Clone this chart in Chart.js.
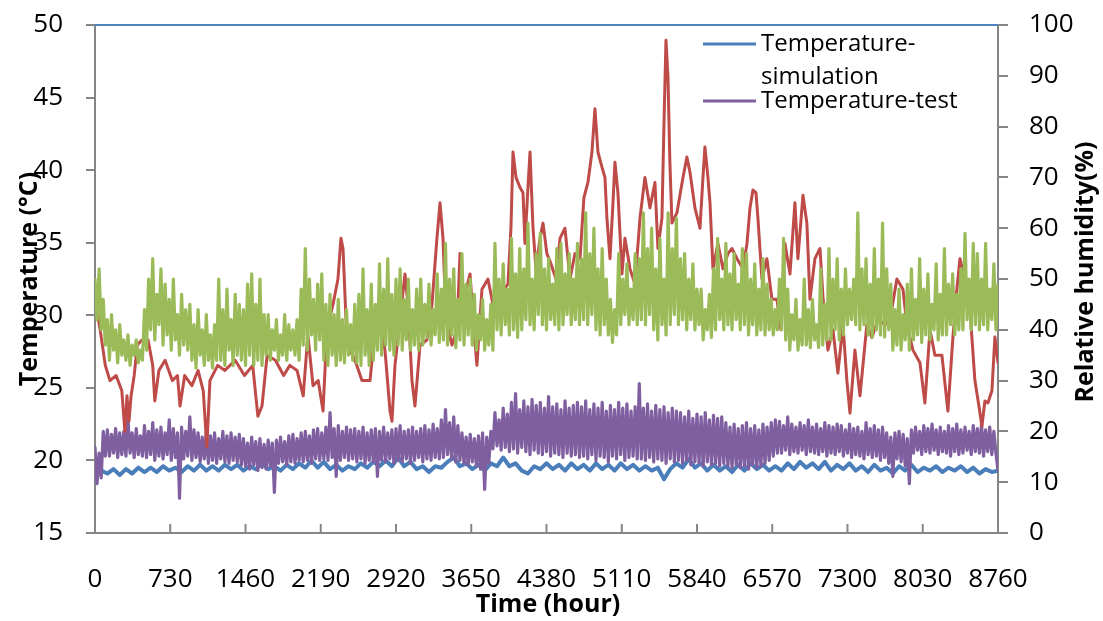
<!DOCTYPE html>
<html>
<head>
<meta charset="utf-8">
<script src="https://cdn.jsdelivr.net/npm/chart.js@4.4.1/dist/chart.umd.min.js"></script>
<style>
  html, body { margin: 0; padding: 0; background: #fff; }
  canvas { display: block; }
</style>
</head>
<body>
<canvas id="line-chart" width="1103" height="621"></canvas>
<script>
const FONT = "'Open Sans', 'DejaVu Sans', sans-serif";

// axis ticks
const hourTicks = [0, 730, 1460, 2190, 2920, 3650, 4380, 5110, 5840, 6570, 7300, 8030, 8760];
const tempTicks = [15, 20, 25, 30, 35, 40, 45, 50];
const rhTicks = [0, 10, 20, 30, 40, 50, 60, 70, 80, 90, 100];

// sampling step (hours) of the read-off series
const SIM_STEP = 60;
const TEST_STEP = 40; // highs at 0,40,80..., lows half a step later

// Temperature-simulation (degC), one value every SIM_STEP hours
const tempSim = [
  19.8,19.3,19.1,19.4,19.0,19.4,19.1,19.5,19.2,19.5,19.2,19.6,19.3,19.5,19.2,19.6,19.3,19.7,19.3,19.6,
  19.3,19.7,19.4,19.7,19.3,19.6,19.4,19.8,19.4,19.6,19.3,19.7,19.4,19.8,19.5,20.0,19.5,19.9,19.4,19.7,
  19.3,19.6,19.4,19.8,19.5,19.9,19.6,20.0,19.6,20.2,19.6,19.9,19.4,19.6,19.2,19.6,19.5,19.9,20.2,19.6,
  19.8,19.4,19.7,19.3,19.8,19.6,20.2,19.6,19.8,19.3,19.1,19.6,19.4,19.8,19.4,19.7,19.3,19.8,19.4,19.7,
  19.3,19.8,19.4,19.7,19.3,19.8,19.4,19.7,19.3,19.6,19.3,19.5,18.7,19.4,19.8,19.5,20.1,19.5,19.8,19.3,
  19.7,19.3,19.6,19.2,19.7,19.3,19.8,19.4,19.7,19.3,19.6,19.3,19.8,19.4,19.9,19.5,19.8,19.4,19.9,19.3,
  19.7,19.4,19.8,19.3,19.6,19.2,19.7,19.3,19.5,19.1,19.6,19.3,19.7,19.2,19.5,19.3,19.6,19.2,19.5,19.3,
  19.6,19.2,19.5,19.1,19.4,19.2,19.3
];

// Temperature-test (degC): upper and lower swings
const tempTestHigh = [
  20.9,20.5,22.0,
  22.1,21.8,22.2,21.9,22.0,22.8,21.9,22.2,21.7,
  22.4,22.0,22.6,22.1,22.3,21.9,22.8,22.2,21.9,22.3,22.0,23.0,22.1,
  21.9,21.6,22.0,21.7,21.9,21.5,22.0,21.7,21.9,21.6,21.8,
  21.5,21.2,21.6,21.3,21.5,21.1,21.4,21.2,
  21.4,21.6,21.3,21.7,21.8,21.5,21.9,22.0,21.7,22.1,22.2,21.9,22.3,
  23.3,22.2,22.4,22.0,22.3,22.1,
  22.2,22.0,22.3,21.9,22.1,22.2,22.0,22.3,21.9,22.1,22.2,22.4,22.0,22.1,22.3,22.0,22.2,22.4,22.1,22.5,22.2,
  22.8,23.5,22.6,23.0,22.4,
  21.9,21.6,21.8,21.5,21.7,21.9,21.6,
  22.0,23.3,22.8,23.6,23.2,24.0,24.6,23.5,24.1,23.7,24.2,23.8,
  24.0,23.6,24.4,23.7,23.9,23.5,24.1,23.6,23.8,24.0,
  23.7,24.1,23.5,23.9,23.6,24.0,23.4,23.8,23.5,24.0,23.6,23.9,23.4,23.7,
  25.3,23.6,23.9,23.4,23.8,23.5,23.7,23.3,23.6,23.4,
  23.3,23.0,23.4,22.9,23.2,23.0,23.3,22.8,23.1,22.9,23.0,
  22.6,22.3,22.5,22.2,22.4,22.6,22.2,22.4,22.1,22.5,22.3,22.6,22.8,
  22.7,22.4,23.0,22.5,22.3,22.6,22.4,22.8,22.3,22.5,22.2,22.6,22.4,22.3,22.5,
  22.4,22.1,22.5,22.2,22.3,22.0,22.6,22.2,22.4,22.1,22.3,21.9,
  21.6,21.9,22.0,21.8,21.5,
  22.1,22.3,22.0,22.4,22.2,22.5,22.1,22.3,22.0,22.4,22.2,22.5,22.1,22.3,22.0,22.4,22.2,22.5,22.1,22.3,22.0,19.3
];
const tempTestLow = [
  18.4,18.8,20.3,
  20.3,20.5,20.2,20.4,20.3,20.5,20.2,20.4,20.3,
  20.2,20.4,20.0,20.3,20.1,20.4,20.0,20.2,17.4,20.1,20.3,20.0,20.2,
  19.9,20.1,19.8,20.0,19.8,20.1,19.9,19.8,20.0,19.9,19.7,
  19.6,19.4,19.7,19.3,19.5,19.4,19.6,17.8,
  19.8,19.9,19.7,19.9,19.8,20.0,19.9,20.0,19.8,20.1,20.0,20.1,20.0,
  20.2,18.9,20.0,20.2,20.0,20.1,
  19.9,20.1,19.8,20.0,19.9,18.9,20.0,19.9,20.1,19.8,20.0,19.9,20.1,19.8,20.0,20.2,19.9,20.1,20.0,20.2,20.1,
  20.2,20.4,20.1,19.9,20.0,
  19.8,19.7,19.9,19.6,19.4,18.0,19.8,
  20.8,21.0,20.7,20.9,20.6,20.8,20.5,20.9,20.6,20.4,20.7,20.5,
  20.4,20.6,20.3,20.5,20.4,20.2,20.5,20.3,20.4,20.2,
  20.3,20.1,20.4,20.0,20.3,20.2,19.9,20.3,20.1,20.4,20.0,20.2,20.3,20.1,
  20.1,20.0,20.2,19.9,20.1,20.0,19.8,20.1,19.9,20.0,
  19.8,20.0,19.7,19.9,19.8,19.6,19.9,19.7,19.8,19.6,19.8,
  19.6,19.5,19.7,19.5,19.6,19.4,19.7,19.5,19.6,19.8,20.0,20.3,20.5,
  20.5,20.7,20.4,20.6,20.5,20.7,20.4,20.6,20.5,20.4,20.6,20.3,20.5,20.4,20.6,
  20.3,20.5,20.2,20.4,20.3,20.1,20.4,20.2,20.3,20.0,20.2,19.8,
  18.9,20.1,19.9,19.6,18.4,
  20.5,20.7,20.4,20.6,20.5,20.7,20.4,20.6,20.5,20.3,20.6,20.4,20.5,20.7,20.4,20.6,20.5,20.3,20.6,20.4,20.5
];

// Relative humidity-test (%): upper and lower swings
const rhTestHigh = [
  50,52,46, 42,43,40,41,38, 39,37,38,36, 44,50,54,47,52,49, 46,50,43,47,44,
  45,41,44,40,43,39,41, 50,44,48,42,47,45, 44,49,51,45,50,43, 43,40,42,39,43,41,40,42,
  48,56,50,46,49, 51,45,47,43, 46,42,44,41,45, 47,52,44,49,45, 53,48,54,47,50,
  52,46,50,44,48, 50,45,49,44,51, 48,57,50,52,46,55,49,50, 47,43,46,42,45,
  57,50,53,48,58,51, 56,52,61,50,55,59,52,54,49,56, 57,51,55,50,57, 54,63,55,
  60,52,56,50, 46,44, 55,50,53,48,55, 54,63,56, 60,52,58,50, 63,56,62,54,
  55,50,53,48, 48,44,47, 52,58,50, 57,51,55,49,56, 55,50,53,48,54,49, 46,44,
  50,58, 48,43,46,42, 50,44,46,41,52,45, 56,50,54,48, 52,48,50, 63,52,
  54,49,56,50, 61,52, 49,44,48,43,49, 52,46,54,48,51,45,53,47, 56,49,51,47,
  52,59,50,57, 55,50,57,48,53,49
];
const rhTestLow = [
  42,40,37, 34,36,33.5,35,34, 33,35,33.5,34, 36,40,38,41,37,39, 36,38,35,37,36,
  34,32.5,35,33,34,32.5,34, 34,33,36,33,35,34, 33,35,33,34,33,35, 34,36,34,35,34,36,35,34,
  37,36,39,36,38, 34,33,35,33, 34,33.5,35,34,33.5, 33,35,33,34,36, 35,37,36,35,37,
  36,38,36,37,36, 37,38.5,37,39,37.5, 38,37,39,36.5,38,37,39,37, 36,38,36,37,36,
  40,39,41,39,40,38.5, 40,42,41,40,43,41,40,42,41,40, 41,43,41,42,41, 42,41,43,
  40,39,41,39, 37.5,39, 41,43,41,42,41, 42,41,43, 40,38,41,39, 41,43,41,42,
  40,42,40,41, 38,40,38.5, 40,42,40, 41,40,42,40,41, 39,41,39,40,39,40, 39,40,
  40,38, 36,38,36,37, 37,36.5,38,36.5,37,38, 38,40,38,39, 41,42,41, 40,41,
  39,38.6,40,39, 38.6,40, 36,37,36,38,36, 38,39,37.5,39,38,40,38,39, 39,41,39,40,
  40,42,40,41, 40,41,40,42,40
];

// Relative humidity-simulation (%), read at these hours
const rhSimHours = [
  10,50,100,145,205,260,290,310,330,350,380,410,455,515,560,580,620,680,750,800,
  825,870,940,1000,1050,1085,1115,1190,1260,1360,1450,1530,1580,1620,1670,1750,1830,1890,1960,2020,
  2065,2115,2165,2212,2250,2309,2357,2386,2406,2435,2474,2522,2590,2668,2716,2765,2813,2862,2881,2910,
  2959,3007,3036,3075,3104,3153,3220,3269,3317,3347,3376,3405,3463,3511,3541,3579,3638,3676,3705,3754,
  3812,3861,3929,4006,4035,4055,4084,4123,4152,4171,4200,4220,4249,4278,4317,4346,4384,4423,4472,4511,
  4559,4608,4656,4705,4743,4782,4821,4850,4879,4918,4947,4966,4996,5025,5044,5073,5112,5141,5190,5238,
  5287,5335,5384,5432,5461,5500,5519,5539,5558,5577,5597,5645,5704,5742,5772,5820,5869,5898,5917,5946,
  5966,5995,6043,6092,6140,6179,6228,6286,6325,6354,6383,6412,6431,6470,6518,6567,6615,6654,6693,6742,
  6790,6819,6868,6906,6936,6984,7033,7062,7110,7159,7207,7256,7294,7324,7372,7421,7488,7537,7595,7663,
  7712,7779,7838,7876,7935,8003,8051,8100,8148,8216,8274,8323,8361,8391,8439,8488,8536,8575,8604,8633,
  8662,8701,8730,8760
];
const rhSim = [
  45,40,33,30,31,28,20,27,22,27,31,37,38,38,33,26,32,34,30,31,
  25,31,29,32,28,17,30,33,32,34,31,33,23,25,35,34,31,33,32,27,
  39,29,30,24,40,45,50,58,56,42,36,34,30,30,40,41,36,24,22,33,
  42,51,45,30,25,37,38,45,58,65,58,42,37,40,55,46,51,40,33,48,
  50,45,47,49,60,75,70,68,67,57,68,75,60,52,58,61,55,53,50,58,
  60,50,55,54,66,69,75,83.5,75,72,70,62,54,65,73,67,51,58,52,49,
  62,70,64,69,56,62,80,97,90,73,61,63,70,74,71,64,60,70,76,70,
  65,52,57,52,55,56,54,52,57,64,67.5,67,62,50,54,46,46,40,57,51,
  65,54,66.5,61,46,54,56,46.5,36,40,31.5,41,30,23.6,36,27,41,38.5,42,41,
  42,50,48,41,36,33.5,25.6,40,35,35,24,38.6,48,54,50,44,30,25,21,26,
  25.6,28,38.6,33.5
];

const stepPoints = (vals, step) => vals.map((v, i) => ({ x: i * step, y: v }));
const pairPoints = (hours, vals) => hours.map((h, i) => ({ x: h, y: vals[i] }));
const swingPoints = (hi, lo, step) => {
  const pts = [];
  hi.forEach((v, i) => {
    pts.push({ x: i * step, y: v });
    if (i < lo.length) pts.push({ x: i * step + step / 2, y: lo[i] });
  });
  return pts;
};

const setTicks = (list) => (scale) => { scale.ticks = list.map(v => ({ value: v })); };
// fixed side width, and no extra room reserved above/below for the end labels
const fitSide = (w) => (s) => { s.width = w; s.paddingTop = 0; s.paddingBottom = 0; };

const frame = {
  id: 'frame',
  afterDraw(chart) {
    const { ctx, chartArea } = chart;
    const x = chart.scales.x;
    ctx.save();
    // top border of the plot area
    ctx.strokeStyle = '#4F81BD';
    ctx.lineWidth = 2;
    ctx.beginPath();
    ctx.moveTo(chartArea.left, chartArea.top);
    ctx.lineTo(chartArea.right, chartArea.top);
    ctx.stroke();
    // x tick marks point inwards
    ctx.strokeStyle = '#868686';
    x.ticks.forEach(t => {
      const px = x.getPixelForValue(t.value);
      ctx.beginPath();
      ctx.moveTo(px, chartArea.bottom);
      ctx.lineTo(px, chartArea.bottom - 9);
      ctx.stroke();
    });
    ctx.restore();
  }
};

const titles = {
  id: 'titles',
  afterDraw(chart) {
    const ctx = chart.ctx;
    ctx.save();
    ctx.fillStyle = '#000';
    ctx.font = 'bold 25px ' + FONT;
    ctx.textAlign = 'center';
    ctx.textBaseline = 'middle';
    ctx.fillText('Time (hour)', 548, 605);
    ctx.translate(30, 279);
    ctx.rotate(-Math.PI / 2);
    ctx.fillText('Temperature (\u00B0C)', 0, 0);
    ctx.restore();
    ctx.save();
    ctx.fillStyle = '#000';
    ctx.font = 'bold 25px ' + FONT;
    ctx.textAlign = 'center';
    ctx.textBaseline = 'middle';
    ctx.translate(1086, 272);
    ctx.rotate(-Math.PI / 2);
    ctx.fillText('Relative humidity(%)', 0, 0);
    ctx.restore();
  }
};

const legendBox = {
  id: 'legendBox',
  afterDraw(chart) {
    const ctx = chart.ctx;
    const items = [
      { color: '#4A7EBB', lines: ['Temperature-', 'simulation'], y: 44 },
      { color: '#7F5FA0', lines: ['Temperature-test'], y: 101 }
    ];
    ctx.save();
    ctx.font = '24px ' + FONT;
    ctx.textBaseline = 'middle';
    ctx.fillStyle = '#000';
    items.forEach(it => {
      ctx.strokeStyle = it.color;
      ctx.lineWidth = 3;
      ctx.beginPath();
      ctx.moveTo(703, it.y);
      ctx.lineTo(756, it.y);
      ctx.stroke();
      it.lines.forEach((txt, k) => ctx.fillText(txt, 761, it.y + k * 33));
    });
    ctx.restore();
  }
};

const tickFont = { family: FONT, size: 26 };

new Chart(document.getElementById('line-chart'), {
  type: 'line',
  data: {
    datasets: [
      {
        label: 'Temperature-simulation',
        data: stepPoints(tempSim, SIM_STEP),
        yAxisID: 'yT',
        borderColor: '#4A7EBB',
        borderWidth: 4,
        order: 4
      },
      {
        label: 'Temperature-test',
        data: swingPoints(tempTestHigh, tempTestLow, TEST_STEP),
        yAxisID: 'yT',
        borderColor: '#7F5FA0',
        borderWidth: 3.2,
        order: 3
      },
      {
        label: 'Relative humidity-simulation',
        data: pairPoints(rhSimHours, rhSim),
        yAxisID: 'yRH',
        borderColor: '#BE4B48',
        borderWidth: 3,
        order: 2
      },
      {
        label: 'Relative humidity-test',
        data: swingPoints(rhTestHigh, rhTestLow, TEST_STEP),
        yAxisID: 'yRH',
        borderColor: '#9BBB59',
        borderWidth: 3.2,
        order: 1
      }
    ]
  },
  options: {
    responsive: false,
    animation: false,
    layout: { padding: { top: 25, left: 0, right: 0, bottom: 0 } },
    plugins: {
      legend: { display: false },
      tooltip: { enabled: false }
    },
    elements: {
      point: { radius: 0 },
      line: { tension: 0, borderJoinStyle: 'round', borderCapStyle: 'round', fill: false }
    },
    scales: {
      x: {
        type: 'linear',
        position: 'bottom',
        min: 0,
        max: 8760,
        afterBuildTicks: setTicks(hourTicks),
        afterFit: s => { s.height = 88; s.paddingLeft = 0; s.paddingRight = 0; },
        grid: { display: false, drawTicks: false },
        border: { color: '#868686', width: 2 },
        ticks: { font: tickFont, color: '#000', padding: 31, maxRotation: 0, autoSkip: false,
                 callback: v => String(v) }
      },
      yT: {
        type: 'linear',
        position: 'left',
        min: 15,
        max: 50,
        afterBuildTicks: setTicks(tempTicks),
        afterFit: fitSide(95),
        grid: { drawOnChartArea: false, drawTicks: true, tickLength: 9, color: '#868686', lineWidth: 2 },
        border: { color: '#868686', width: 2 },
        ticks: { font: tickFont, color: '#000', padding: 23 }
      },
      yRH: {
        type: 'linear',
        position: 'right',
        min: 0,
        max: 100,
        afterBuildTicks: setTicks(rhTicks),
        afterFit: fitSide(105),
        grid: { drawOnChartArea: false, drawTicks: true, tickLength: 10, color: '#868686', lineWidth: 2 },
        border: { color: '#868686', width: 2 },
        ticks: { font: tickFont, color: '#000', padding: 21 }
      }
    }
  },
  plugins: [frame, titles, legendBox]
});
</script>
</body>
</html>
